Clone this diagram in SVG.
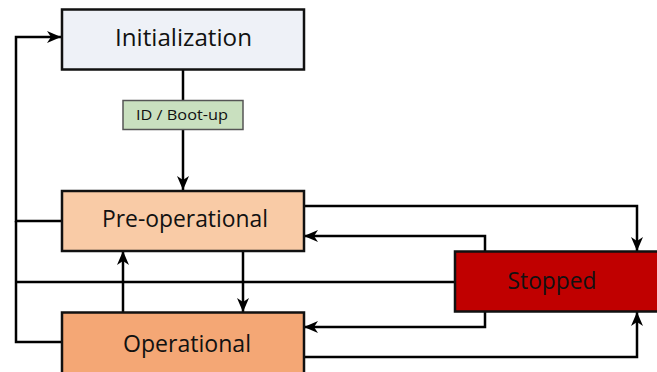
<svg xmlns="http://www.w3.org/2000/svg" width="657" height="372" viewBox="0 0 657 372">
<defs>
<marker id="ah" viewBox="0 0 14 12" refX="14" refY="6" markerWidth="14" markerHeight="12" markerUnits="userSpaceOnUse" orient="auto">
<path d="M0,0 L14,6 L0,12 L4,6 Z" fill="#000"/>
</marker>
<style>
.box{stroke:#111;stroke-width:2.5}
.t{font-family:"Open Sans","DejaVu Sans",sans-serif;font-size:23.5px;fill:#111;text-anchor:middle}
.c{fill:none;stroke:#000;stroke-width:2.5}
</style>
</defs>
<rect width="657" height="372" fill="#fff"/>
<g id="connectors">
<path class="c" d="M183,70 V101"/>
<path class="c" d="M183,130 V190" marker-end="url(#ah)"/>
<path class="c" d="M61,221 H16 V37 H61" marker-end="url(#ah)"/>
<path class="c" d="M16,221 V342 H61"/>
<path class="c" d="M16,282 H455"/>
<path class="c" d="M304,206 H637 V251" marker-end="url(#ah)"/>
<path class="c" d="M485,251 V236 H304" marker-end="url(#ah)"/>
<path class="c" d="M485,312 V327 H304" marker-end="url(#ah)"/>
<path class="c" d="M304,357 H637 V312" marker-end="url(#ah)"/>
<path class="c" d="M123,312 V251" marker-end="url(#ah)"/>
<path class="c" d="M243,251 V312" marker-end="url(#ah)"/>
</g>
<g id="initialization">
<rect class="box" x="62" y="9.5" width="242" height="60" fill="#eef1f7"/>
<text class="t" x="183.5" y="46" textLength="137" lengthAdjust="spacingAndGlyphs">Initialization</text>
</g>
<g id="label-boot">
<rect x="123" y="100.5" width="120" height="29" fill="#c9e0bf" stroke="#555" stroke-width="1.5"/>
<text x="182" y="120" font-family="'Open Sans','DejaVu Sans',sans-serif" font-size="15" fill="#111" text-anchor="middle" textLength="92" lengthAdjust="spacingAndGlyphs">ID / Boot-up</text>
</g>
<g id="preoperational">
<rect class="box" x="62" y="191" width="242" height="60" fill="#f9cba6"/>
<text class="t" x="185" y="227" textLength="166" lengthAdjust="spacingAndGlyphs">Pre-operational</text>
</g>
<g id="operational">
<rect class="box" x="62" y="312.5" width="242" height="62" fill="#f4a775"/>
<text class="t" x="187" y="352" textLength="128" lengthAdjust="spacingAndGlyphs">Operational</text>
</g>
<g id="stopped">
<rect class="box" x="455" y="251.5" width="210" height="60" fill="#c00000"/>
<text class="t" x="552" y="289" textLength="89" lengthAdjust="spacingAndGlyphs">Stopped</text>
</g>
</svg>
